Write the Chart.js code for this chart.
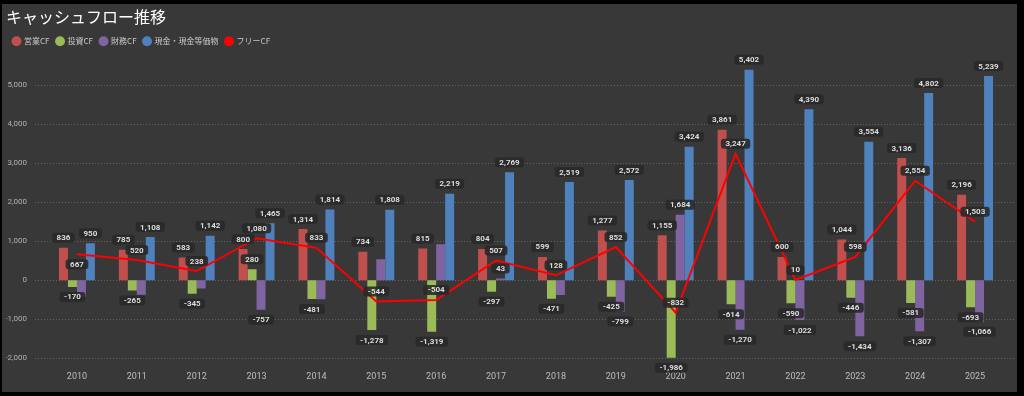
<!DOCTYPE html>
<html lang="ja">
<head>
    <meta charset="UTF-8">
    <title>キャッシュフロー推移</title>
    <script src="https://cdn.jsdelivr.net/npm/chart.js"></script>
    <style>
        html, body { margin: 0; padding: 0; background: #000; }
        #panel {
            position: absolute;
            left: 2px;
            top: 4px;
            width: 1015px;
            height: 388px;
            background: #383838;
        }
    </style>
</head>
<body>
    <div id="panel">
        <canvas id="cfChart" width="1015" height="388"></canvas>
    </div>

    <script>
        // 年度
        const years = ['2010', '2011', '2012', '2013', '2014', '2015', '2016', '2017',
                       '2018', '2019', '2020', '2021', '2022', '2023', '2024', '2025'];

        // 各キャッシュフロー
        const operatingCF = [836, 785, 583, 800, 1314, 734, 815, 804, 599, 1277, 1155, 3861, 600, 1044, 3136, 2196];
        const investingCF = [-170, -265, -345, 280, -481, -1278, -1319, -297, -471, -425, -1986, -614, -590, -446, -581, -693];
        const financingCF = [-422, -370, -210, -757, -485, 540, 923, 43, -380, -799, 1684, -1270, -1022, -1434, -1307, -1066];
        const cashBalance = [950, 1108, 1142, 1465, 1814, 1808, 2219, 2769, 2519, 2572, 3424, 5402, 4390, 3554, 4802, 5239];
        const freeCF = [667, 520, 238, 1080, 833, -544, -504, 507, 128, 852, -832, 3247, 10, 598, 2554, 1503];

        // Y軸の目盛り
        const yTicks = [-2000, -1000, 0, 1000, 2000, 3000, 4000, 5000];

        const fmt = v => v.toLocaleString('en-US');

        // 点線のグリッド (Power BI風に左右へ少しはみ出す)
        const dottedGrid = {
            id: 'dottedGrid',
            beforeDatasetsDraw(chart) {
                const ctx = chart.ctx;
                const yScale = chart.scales.y;
                ctx.save();
                ctx.strokeStyle = 'rgba(255,255,255,0.22)';
                ctx.lineWidth = 1;
                ctx.setLineDash([1, 2]);
                yScale.ticks.forEach(t => {
                    const y = Math.round(yScale.getPixelForValue(t.value)) + 0.5;
                    ctx.beginPath();
                    ctx.moveTo(33, y);
                    ctx.lineTo(1013, y);
                    ctx.stroke();
                });
                ctx.restore();
            }
        };

        // データラベル (重なったものは表示しない)
        const valueLabels = {
            id: 'valueLabels',
            afterDatasetsDraw(chart) {
                const ctx = chart.ctx;
                const placed = [];
                ctx.save();
                ctx.font = 'bold 8px Roboto';
                ctx.textAlign = 'center';
                ctx.textBaseline = 'middle';

                const overlaps = (b) => placed.some(p =>
                    b.x1 < p.x2 && b.x2 > p.x1 && b.y1 < p.y2 && b.y2 > p.y1);

                const boxFor = (text, x, y) => {
                    const w = ctx.measureText(text).width + 9;
                    const h = 10;
                    return { x1: x - w / 2, x2: x + w / 2, y1: y - h / 2, y2: y + h / 2, cx: x, cy: y, text };
                };

                const draw = (b) => {
                    placed.push(b);
                    ctx.fillStyle = 'rgba(40,40,40,0.88)';
                    ctx.beginPath();
                    ctx.roundRect(b.x1, b.y1, b.x2 - b.x1, b.y2 - b.y1, 3);
                    ctx.fill();
                    ctx.fillStyle = '#dcdcdc';
                    ctx.fillText(b.text, b.cx, b.cy + 0.5);
                };

                // 営業・投資・現金・フリー・財務 の順に配置
                [0, 1, 3, 4, 2].forEach(di => {
                    const ds = chart.data.datasets[di];
                    const meta = chart.getDatasetMeta(di);
                    meta.data.forEach((el, i) => {
                        const v = ds.data[i];
                        const text = fmt(v);
                        let candidates;
                        if (ds.type === 'line') {
                            candidates = [el.y - 10, el.y + 10];
                        } else {
                            candidates = [v >= 0 ? el.y - 10 : el.y + 10];
                        }
                        for (const cy of candidates) {
                            const b = boxFor(text, el.x, cy);
                            if (!overlaps(b)) { draw(b); break; }
                        }
                    });
                });
                ctx.restore();
            }
        };

        const ctx = document.getElementById('cfChart').getContext('2d');
        new Chart(ctx, {
            type: 'bar',
            data: {
                labels: years,
                datasets: [
                    { label: '営業CF', data: operatingCF, backgroundColor: '#c0504d', order: 1 },
                    { label: '投資CF', data: investingCF, backgroundColor: '#9bbb59', order: 1 },
                    { label: '財務CF', data: financingCF, backgroundColor: '#8064a2', order: 1 },
                    { label: '現金・現金等価物', data: cashBalance, backgroundColor: '#4f81bd', order: 1 },
                    {
                        type: 'line',
                        label: 'フリーCF',
                        data: freeCF,
                        borderColor: '#ff0000',
                        backgroundColor: '#ff0000',
                        borderWidth: 2,
                        pointRadius: 0,
                        tension: 0,
                        order: 0,
                    },
                ],
            },
            options: {
                responsive: false,
                animation: false,
                layout: { padding: { left: 4, right: 12, top: 0, bottom: 0 } },
                datasets: {
                    bar: { categoryPercentage: 0.6, barPercentage: 1.0 },
                },
                plugins: {
                    title: {
                        display: true,
                        text: 'キャッシュフロー推移',
                        align: 'start',
                        color: '#ffffff',
                        font: { family: "'Noto Sans CJK JP'", size: 16, weight: 'normal' },
                        padding: { top: 3, bottom: 4 },
                    },
                    legend: {
                        display: true,
                        position: 'top',
                        align: 'start',
                        labels: {
                            usePointStyle: true,
                            pointStyle: 'circle',
                            boxWidth: 7,
                            boxHeight: 7,
                            padding: 7,
                            color: '#c8c8c8',
                            font: { family: "'Noto Sans CJK JP'", size: 8 },
                            sort: (a, b) => a.datasetIndex - b.datasetIndex,
                            generateLabels: (chart) =>
                                Chart.defaults.plugins.legend.labels.generateLabels(chart).map(l => ({
                                    ...l,
                                    fillStyle: chart.data.datasets[l.datasetIndex].backgroundColor,
                                    lineWidth: 0,
                                })),
                        },
                    },
                    tooltip: { enabled: false },
                },
                scales: {
                    x: {
                        grid: { display: false, drawTicks: false },
                        border: { display: false },
                        ticks: { color: '#bdbdbd', font: { family: 'Roboto', size: 9 }, padding: 4 },
                        afterFit: (scale) => { scale.height = 20; },
                    },
                    y: {
                        min: -2230,
                        max: 5775,
                        grid: { display: false, drawTicks: false },
                        border: { display: false },
                        ticks: {
                            color: '#b0b0b0',
                            font: { family: 'Roboto', size: 8 },
                            padding: 20,
                        },
                        afterBuildTicks: (scale) => {
                            scale.ticks = yTicks.map(v => ({ value: v }));
                        },
                        afterFit: (scale) => { scale.width = 41; },
                    },
                },
            },
            plugins: [dottedGrid, valueLabels],
        });
    </script>
</body>
</html>
